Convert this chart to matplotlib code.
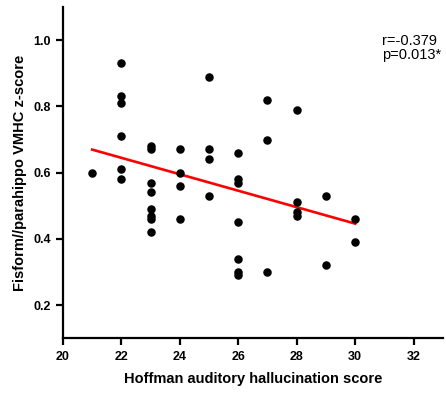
import numpy as np
import matplotlib.pyplot as plt

plt.rcParams['font.family'] = ['Liberation Sans', 'DejaVu Sans']

# Hoffman score (x) and VMHC z-score (y)
hoffman = [21,
           22, 22, 22, 22, 22, 22,
           23, 23, 23, 23, 23, 23, 23, 23,
           24, 24, 24, 24,
           25, 25, 25, 25,
           26, 26, 26, 26, 26, 26, 26,
           27, 27, 27,
           28, 28, 28, 28,
           29, 29,
           30, 30]
vmhc = [0.60,
        0.93, 0.83, 0.81, 0.71, 0.61, 0.58,
        0.68, 0.67, 0.57, 0.54, 0.49, 0.47, 0.46, 0.42,
        0.67, 0.60, 0.56, 0.46,
        0.89, 0.67, 0.64, 0.53,
        0.66, 0.58, 0.57, 0.45, 0.34, 0.30, 0.29,
        0.82, 0.70, 0.30,
        0.79, 0.51, 0.48, 0.47,
        0.53, 0.32,
        0.46, 0.39]
x_ticks = [20, 22, 24, 26, 28, 30, 32]
y_ticks = [0.2, 0.4, 0.6, 0.8, 1.0]
stats_text = "r=-0.379\np=0.013*"

fig = plt.figure(figsize=(4.46, 3.95), dpi=100)
ax = fig.add_axes([0.141, 0.144, 0.852, 0.838])

ax.scatter(hoffman, vmhc, s=26, color='black', zorder=3)

# linear fit over the observed range
slope, intercept = np.polyfit(hoffman, vmhc, 1)
xfit = np.array([min(hoffman), max(hoffman)])
ax.plot(xfit, slope * xfit + intercept, color='#ff0000', lw=1.9, zorder=2)

ax.set_xlim(20, 33)
ax.set_ylim(0.1, 1.1)
ax.set_xticks(x_ticks)
ax.set_yticks(y_ticks)
ax.set_yticklabels([f"{v:.1f}" for v in y_ticks])

for side in ['top', 'right']:
    ax.spines[side].set_visible(False)
for side in ['left', 'bottom']:
    ax.spines[side].set_linewidth(1.6)
ax.tick_params(width=1.6, length=5, labelsize=9, direction='out')
ax.tick_params(axis='x', pad=4.5)
for lab in ax.get_xticklabels() + ax.get_yticklabels():
    lab.set_fontweight('bold')

ax.set_xlabel('Hoffman auditory hallucination score', fontsize=10.5,
              fontweight='bold', labelpad=6)
ax.set_ylabel('Fisform//parahippo VMHC z-score', fontsize=10.5,
              fontweight='bold', labelpad=5)

ax.text(0.84, 0.876, stats_text, transform=ax.transAxes, fontsize=10.5,
        ha='left', va='center', linespacing=0.95)

fig.savefig('out.png', dpi=100)
